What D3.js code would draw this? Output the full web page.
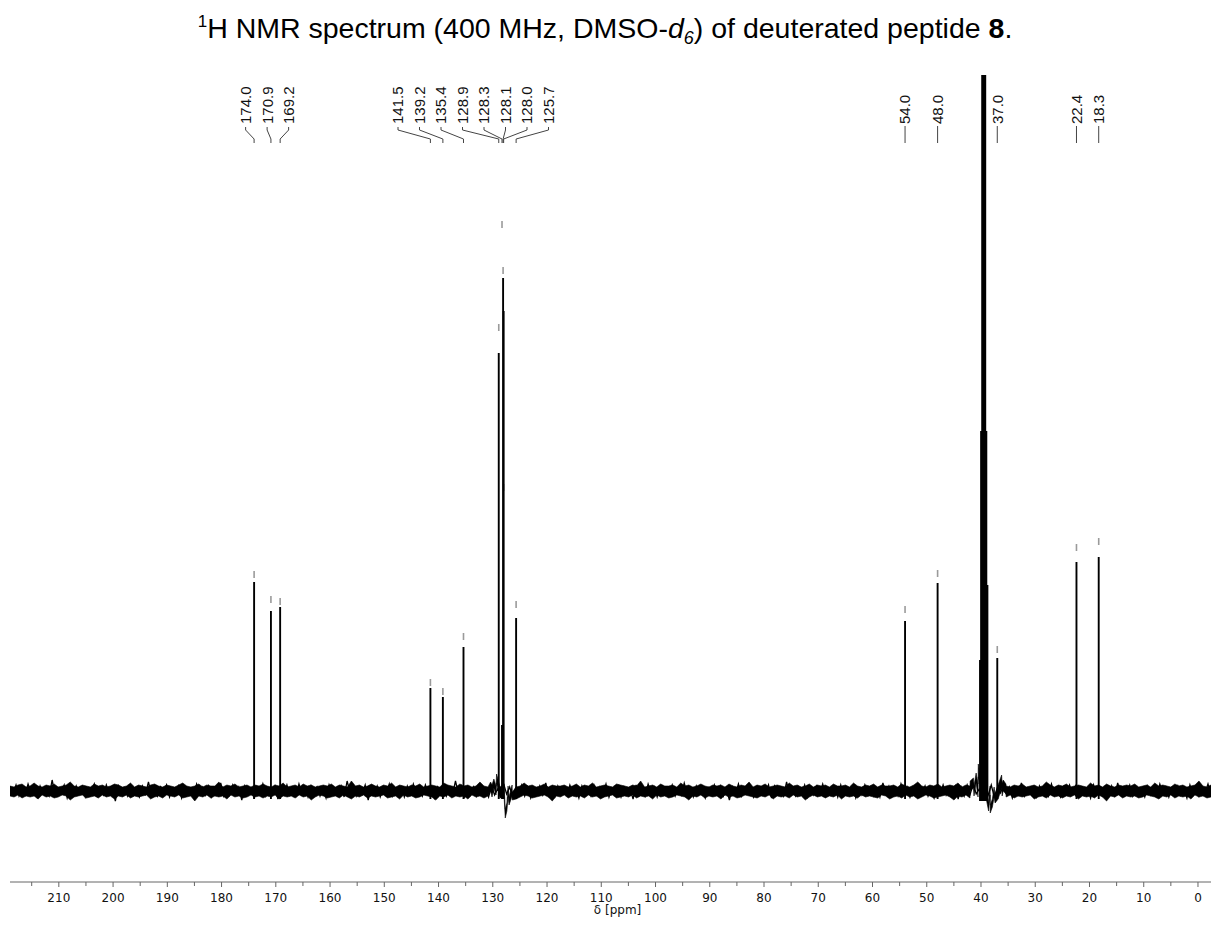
<!DOCTYPE html>
<html><head><meta charset="utf-8">
<script src="https://cdn.jsdelivr.net/npm/d3@7"></script>
<style>body{margin:0;background:#fff} svg{display:block}</style>
</head><body>
<svg id="c" width="1211" height="925"></svg>
<script>
// ---------------- data ----------------
const peakLabels = ["174.0","170.9","169.2","141.5","139.2","135.4","128.9","128.3","128.1","128.0","125.7","54.0","48.0","37.0","22.4","18.3"];
const peakPpm    = [174.0, 170.9, 169.2, 141.5, 139.2, 135.4, 128.9, 128.3, 128.1, 128.0, 125.7, 54.0, 48.0, 37.0, 22.4, 18.3];
const peakHeight = [209, 180, 184, 103, 94, 144, 438, 66, 513, 480, 173, 170, 208, 133, 229, 234];
const markHeight = [213, 188, 186, 105, 96, 151, 460, 563, 517, 300, 183, 178, 214, 138, 240, 246];
const labelGroups = [[0,1,2],[3,4,5,6,7,8,9,10],[11],[12],[13],[14],[15]];

// DMSO-d6 solvent septet
const solventPpm    = [40.1, 39.9, 39.7, 39.5, 39.3, 39.1, 38.9];
const solventHeight = [131, 360, 800, 950, 800, 360, 206];

// baseline distortions (ppm, upper edge, lower edge)
const baselineFeatures = [
  [130.4, 9, 0],[129.8, 12, 3],[129.3, 17, 8],[127.7,-18,-27],[127.4,-12,-20],[127.0,-6,-14],[126.4,-1,-9],
  [42.0, 10, 0],[41.4, 13, 3],[40.9, 18, 8],[40.5, 27, 14],[38.6,-12,-20],[38.3,-14,-22],[37.9,-8,-16],[37.4,-4,-12],[36.2, 16, 3],[35.9, 11, 0],[35.4, 7, -3]
];

// baseline noise envelope (upper and lower edge of the noise band), left (high ppm) to right
const noiseUpper = [
5,4,6,7,4,5,8,5,4,6,5,7,4,5,6,9,5,4,6,5,
4,7,5,6,4,5,7,6,4,5,8,4,6,5,4,6,7,5,4,6,
5,4,6,8,5,4,5,7,4,6,5,5,9,4,6,5,7,4,5,6,
4,6,5,7,5,4,6,5,8,4,5,6,4,7,5,6,4,5,6,5,
7,4,6,5,4,10,5,6,4,5,7,5,4,6,5,8,4,6,5,4,
6,5,7,4,5,6,5,4,8,6,5,4,7,5,6,4,5,9,5,4,
6,5,4,7,5,6,4,5,8,5,6,4,5,7,4,6,5,5,6,4,
5,7,4,6,5,8,4,5,6,5,4,7,6,5,4,6,5,10,4,5,
6,4,7,5,5,6,4,8,5,6,4,5,7,5,4,6,5,6,4,7,
5,4,6,5,9,4,6,5,7,4,5,6,5,4,8,5,6,4,5,7,
4,6,5,6,4,7,5,5,6,4,8,5,4,6,5,7,4,6,5,5,
6,4,7,5,4,6,9,5,4,6,5,7,4,5,6,5,8,4,6,5,
5,7,4,6,5,4,6,8,5,4,6,5,7,4,5,6,4,5,9,6,
4,6,5,7,4,5,6,5,4,8,5,6,4,7,5,4,6,5,6,5,
7,4,5,6,4,8,5,6,5,4,7,5,6,4,5,6,10,5,4,6
];
const noiseLower = [
-5,-6,-4,-7,-5,-6,-5,-8,-4,-6,-5,-7,-6,-4,-5,-9,-6,-5,-4,-7,
-6,-5,-7,-4,-6,-5,-8,-5,-6,-4,-7,-5,-6,-5,-4,-8,-6,-5,-7,-4,
-5,-6,-4,-7,-6,-5,-10,-5,-6,-4,-7,-5,-6,-5,-8,-4,-6,-5,-7,-6,
-4,-6,-5,-7,-5,-6,-4,-8,-5,-6,-5,-7,-4,-6,-5,-9,-6,-4,-5,-7,
-6,-5,-7,-4,-6,-8,-5,-6,-4,-7,-5,-6,-5,-4,-7,-6,-5,-8,-4,-6,
-5,-7,-6,-4,-5,-6,-9,-5,-6,-4,-7,-5,-6,-5,-8,-4,-6,-5,-7,-5,
-6,-4,-7,-5,-6,-5,-8,-6,-4,-5,-7,-6,-5,-4,-6,-10,-5,-6,-4,-7,
-5,-6,-5,-7,-4,-6,-5,-8,-6,-5,-4,-7,-6,-5,-6,-4,-7,-5,-6,-5,
-8,-4,-6,-5,-7,-6,-4,-5,-6,-9,-5,-6,-4,-7,-5,-6,-5,-8,-4,-6,
-5,-7,-6,-4,-5,-6,-7,-5,-6,-4,-8,-5,-6,-5,-7,-4,-6,-5,-9,-6,
-4,-6,-5,-7,-5,-6,-4,-8,-5,-6,-5,-7,-4,-6,-5,-6,-7,-4,-5,-8,
-6,-5,-7,-4,-6,-5,-8,-6,-4,-5,-7,-6,-5,-4,-6,-9,-5,-6,-4,-7,
-5,-6,-5,-7,-4,-6,-8,-5,-6,-4,-7,-5,-6,-5,-4,-8,-6,-5,-7,-4,
-6,-5,-7,-5,-6,-4,-8,-5,-6,-5,-7,-4,-6,-10,-5,-6,-4,-7,-5,-6,
-5,-7,-6,-4,-5,-6,-8,-5,-6,-4,-7,-5,-6,-5,-8,-4,-6,-5,-7,-6
];

// noise trace (spiky detail drawn over the band)
const noiseTrace = [
4,-3,6,-5,2,-4,7,-2,3,-6,5,-3,1,-5,11,-4,3,-2,6,-7,
2,-4,5,-3,4,-6,3,-1,7,-5,2,-4,6,-3,4,-10,5,-2,3,-5,
6,-4,2,-6,5,-3,9,-4,3,-5,4,-2,6,-6,2,-3,5,-7,4,-3,
3,-5,7,-2,4,-4,5,-6,2,-3,8,-5,3,-4,6,-2,4,-9,5,-3,
2,-6,4,-3,7,-5,3,-2,5,-8,4,-3,6,-4,2,-5,7,-3,3,-6,
5,-2,4,-5,3,-7,6,-3,2,-4,5,-6,10,-2,3,-5,4,-3,6,-9,
4,-3,5,-6,2,-4,7,-5,3,-2,4,-6,5,-3,7,-4,2,-5,6,-3,
3,-7,4,-2,6,-5,3,-4,10,-3,5,-6,2,-4,4,-5,6,-2,3,-6,
5,-4,2,-5,7,-3,4,-6,3,-2,6,-5,4,-7,2,-3,5,-4,8,-5,
2,-6,5,-3,4,-4,6,-2,3,-7,5,-3,2,-5,6,-4,4,-3,7,-6,
3,-2,5,-6,4,-3,2,-8,6,-4,3,-5,7,-2,4,-6,5,-3,2,-4,
6,-5,3,-4,8,-3,2,-6,5,-2,4,-7,3,-4,6,-3,5,-5,2,-9,
4,-3,7,-5,3,-2,5,-6,4,-4,2,-3,6,-7,5,-2,3,-5,9,-4,
2,-5,4,-3,6,-6,3,-4,5,-2,7,-5,2,-3,4,-6,6,-4,3,-2,
5,-7,2,-4,6,-3,4,-5,3,-6,8,-2,5,-4,2,-5,7,-3,4,-6,
3,-4,6,-2,5,-5,2,-7,4,-3,6,-4,3,-2,5,-8,4,-5,6,-3,
7,-3,2,-5,4,-4,6,-6,3,-2,5,-3,4,-7,2,-4,8,-5,3,-3,
4,-6,5,-2,3,-5,7,-4,2,-6,4,-3,6,-2,5,-5,3,-4,2,-7,
6,-3,4,-5,2,-4,5,-6,8,-3,3,-2,6,-5,4,-3,2,-6,5,-4,
3,-5,7,-2,4,-6,3,-3,5,-4,2,-7,6,-3,4,-5,3,-2,7,-4
];

const majorTicks = [210,200,190,180,170,160,150,140,130,120,110,100,90,80,70,60,50,40,30,20,10,0];
const minorTicks = [215,205,195,185,175,165,155,145,135,125,115,105,95,85,75,65,55,45,35,25,15,5];
const ppmDomain = [219, -2.4];

// ---------------- drawing ----------------
const svg = d3.select("#c");
const x = d3.scaleLinear().domain(ppmDomain).range([10, 1211]);
const y = d3.scaleLinear().domain([0, 716]).range([791, 75]);

svg.append("defs").append("clipPath").attr("id","clip")
  .append("rect").attr("x",10).attr("y",75).attr("width",1201).attr("height",780);

// title
const title = svg.append("text").attr("x", 605).attr("y", 38)
  .attr("text-anchor","middle")
  .style("font-family","'Liberation Sans', Arial, sans-serif").style("font-size","28.5px").attr("fill","#000");
title.append("tspan").text("1").style("font-size","17px").attr("dy","-11");
title.append("tspan").text("H NMR spectrum (400 MHz, DMSO-").attr("dy","11");
title.append("tspan").text("d").style("font-style","italic");
title.append("tspan").text("6").style("font-style","italic").style("font-size","18px").attr("dy","6");
title.append("tspan").text(") of deuterated peptide ").attr("dy","-6");
title.append("tspan").text("8").style("font-weight","bold");
title.append("tspan").text(".");

const plot = svg.append("g").attr("clip-path","url(#clip)");

// baseline noise band: envelope samples + distortion features merged by ppm
const step = (ppmDomain[0] - ppmDomain[1]) / (noiseUpper.length - 1);
const bandPts = noiseUpper.map((v, i) => [ppmDomain[0] - i * step, v, noiseLower[i]]).concat(baselineFeatures);
bandPts.sort((a, b) => b[0] - a[0]);
const band = d3.area().x(d => x(d[0])).y0(d => y(d[2])).y1(d => y(d[1]));
plot.append("path").datum(bandPts).attr("d", band)
  .attr("fill","#000").attr("stroke","#000").attr("stroke-width",0.6).attr("stroke-linejoin","round");

// spiky trace over the band
const tStep = (ppmDomain[0] - ppmDomain[1]) / (noiseTrace.length - 1);
const tracePts = noiseTrace.map((v, i) => [ppmDomain[0] - i * tStep, v]);
plot.append("path").datum(tracePts)
  .attr("d", d3.line().x(d => x(d[0])).y(d => y(d[1])))
  .attr("fill","none").attr("stroke","#000").attr("stroke-width",1.3);

// peak pick marks (gray) drawn under the peaks
plot.selectAll("line.mark").data(peakPpm).join("line").attr("class","mark")
  .attr("x1", d => x(d)).attr("x2", d => x(d))
  .attr("y1", (d, i) => y(markHeight[i])).attr("y2", (d, i) => y(markHeight[i]) - 7)
  .attr("stroke","#9a9a9a").attr("stroke-width",1.6);

// peaks as sticks
plot.selectAll("line.pk").data(peakPpm).join("line").attr("class","pk")
  .attr("x1", d => x(d)).attr("x2", d => x(d))
  .attr("y1", y(-8)).attr("y2", (d, i) => y(peakHeight[i]))
  .attr("stroke","#000").attr("stroke-width",1.9);
plot.selectAll("line.sv").data(solventPpm).join("line").attr("class","sv")
  .attr("x1", d => x(d)).attr("x2", d => x(d))
  .attr("y1", y(-10)).attr("y2", (d, i) => y(solventHeight[i]))
  .attr("stroke","#000").attr("stroke-width",2.8);

// labels
const lab = svg.append("g");
const spacing = 21.5, textBottom = 124;
labelGroups.forEach(g => {
  const xs = g.map(i => x(peakPpm[i]));
  const mid = (d3.min(xs) + d3.max(xs)) / 2;
  g.forEach((i, k) => {
    const lx = mid + (k - (g.length - 1) / 2) * spacing;
    const px = x(peakPpm[i]);
    lab.append("text")
      .attr("transform", `translate(${lx + 5.4},${textBottom}) rotate(-90)`)
      .attr("text-anchor","start")
      .style("font-family","'Liberation Sans', Arial, sans-serif").style("font-size","15px")
      .attr("fill","#111").text(peakLabels[i]);
    const p = g.length === 1
      ? `M${lx},126L${px},143`
      : `M${lx},127L${lx},130L${px},139L${px},143`;
    lab.append("path").attr("d", p).attr("fill","none").attr("stroke","#444").attr("stroke-width",1);
  });
});

// axis
const axG = svg.append("g").attr("transform","translate(0,882)");
axG.append("line").attr("x1",10).attr("x2",1211).attr("stroke","#666").attr("stroke-width",1);
axG.selectAll("line.mj").data(majorTicks).join("line").attr("class","mj")
  .attr("x1", d => x(d)).attr("x2", d => x(d)).attr("y1",0).attr("y2",5)
  .attr("stroke","#666");
axG.selectAll("line.mn").data(minorTicks.filter(d => d <= ppmDomain[0])).join("line").attr("class","mn")
  .attr("x1", d => x(d)).attr("x2", d => x(d)).attr("y1",0).attr("y2",4)
  .attr("stroke","#666");
axG.selectAll("text.tl").data(majorTicks).join("text").attr("class","tl")
  .attr("x", d => x(d)).attr("y", 20).attr("text-anchor","middle")
  .style("font-family","'DejaVu Sans', Verdana, sans-serif").style("font-size","12px")
  .attr("fill","#111").text(d => d);
axG.append("text").attr("x", x(107)).attr("y", 32).attr("text-anchor","middle")
  .style("font-family","'DejaVu Sans', Verdana, sans-serif").style("font-size","12px")
  .attr("fill","#111").text("δ [ppm]");
</script>
</body></html>
